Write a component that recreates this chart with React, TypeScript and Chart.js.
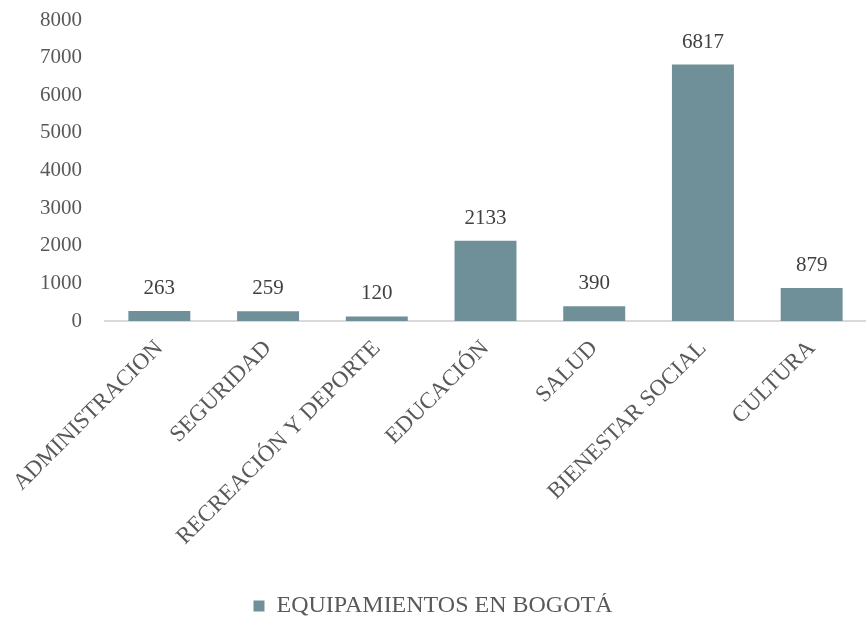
import React, { useEffect, useRef } from "react";
import { Chart, registerables } from "chart.js";

Chart.register(...registerables);

const categories = [
  "ADMINISTRACION",
  "SEGURIDAD",
  "RECREACIÓN Y DEPORTE",
  "EDUCACIÓN",
  "SALUD",
  "BIENESTAR SOCIAL",
  "CULTURA",
];
const values = [263, 259, 120, 2133, 390, 6817, 879];
const seriesName = "EQUIPAMIENTOS EN BOGOTÁ";
const yMax = 8000;
const yStep = 1000;

const FONT = "'Liberation Serif', 'Times New Roman', serif";

const valueLabels = {
  id: "valueLabels",
  afterDatasetsDraw(chart: any) {
    const ctx = chart.ctx;
    const meta = chart.getDatasetMeta(0);
    ctx.save();
    ctx.font = `21px ${FONT}`;
    ctx.fillStyle = "#404040";
    ctx.textAlign = "center";
    ctx.textBaseline = "alphabetic";
    meta.data.forEach((el: any, i: number) => {
      ctx.fillText(String(values[i]), el.x, el.y - 17);
    });
    ctx.restore();
  },
};

export default function App() {
  const ref = useRef<HTMLCanvasElement | null>(null);
  useEffect(() => {
    document.body.style.margin = "0";
    const chart = new Chart(ref.current as HTMLCanvasElement, {
      type: "bar",
      data: {
        labels: categories,
        datasets: [
          {
            label: seriesName,
            data: values,
            backgroundColor: "#6f9098",
            barPercentage: 0.57,
            categoryPercentage: 1,
          },
        ],
      },
      options: {
        animation: false,
        responsive: false,
        maintainAspectRatio: false,
        layout: { padding: { top: 20, right: 0, left: 0, bottom: -10 } },
        plugins: {
          tooltip: { enabled: false },
          legend: {
            position: "bottom",
            labels: {
              boxWidth: 11,
              boxHeight: 11,
              color: "#595959",
              font: { family: FONT, size: 24 },
              padding: 1,
            },
          },
        },
        scales: {
          x: {
            grid: { display: false, drawTicks: false },
            border: { display: true, color: "#d9d9d9", width: 2 },
            ticks: {
              color: "#595959",
              font: { family: FONT, size: 23 },
              minRotation: 45,
              maxRotation: 45,
              padding: 14,
              autoSkip: false,
            },
            afterFit(scale: any) {
              scale.height = 272;
              scale.paddingLeft = 0;
              scale.paddingRight = 0;
            },
          },
          y: {
            min: 0,
            max: yMax,
            grid: { display: false, drawTicks: false },
            border: { display: false },
            ticks: {
              stepSize: yStep,
              color: "#595959",
              font: { family: FONT, size: 21 },
              padding: 23,
              callback: (v: any) => String(v),
            },
            afterFit(scale: any) {
              scale.width = 105;
              scale.paddingTop = 0;
              scale.paddingBottom = 0;
            },
          },
        },
      },
      plugins: [valueLabels],
    });
    return () => chart.destroy();
  }, []);
  return (
    <div style={{ width: 866, height: 618 }}>
      <canvas ref={ref} width={866} height={618} />
    </div>
  );
}
